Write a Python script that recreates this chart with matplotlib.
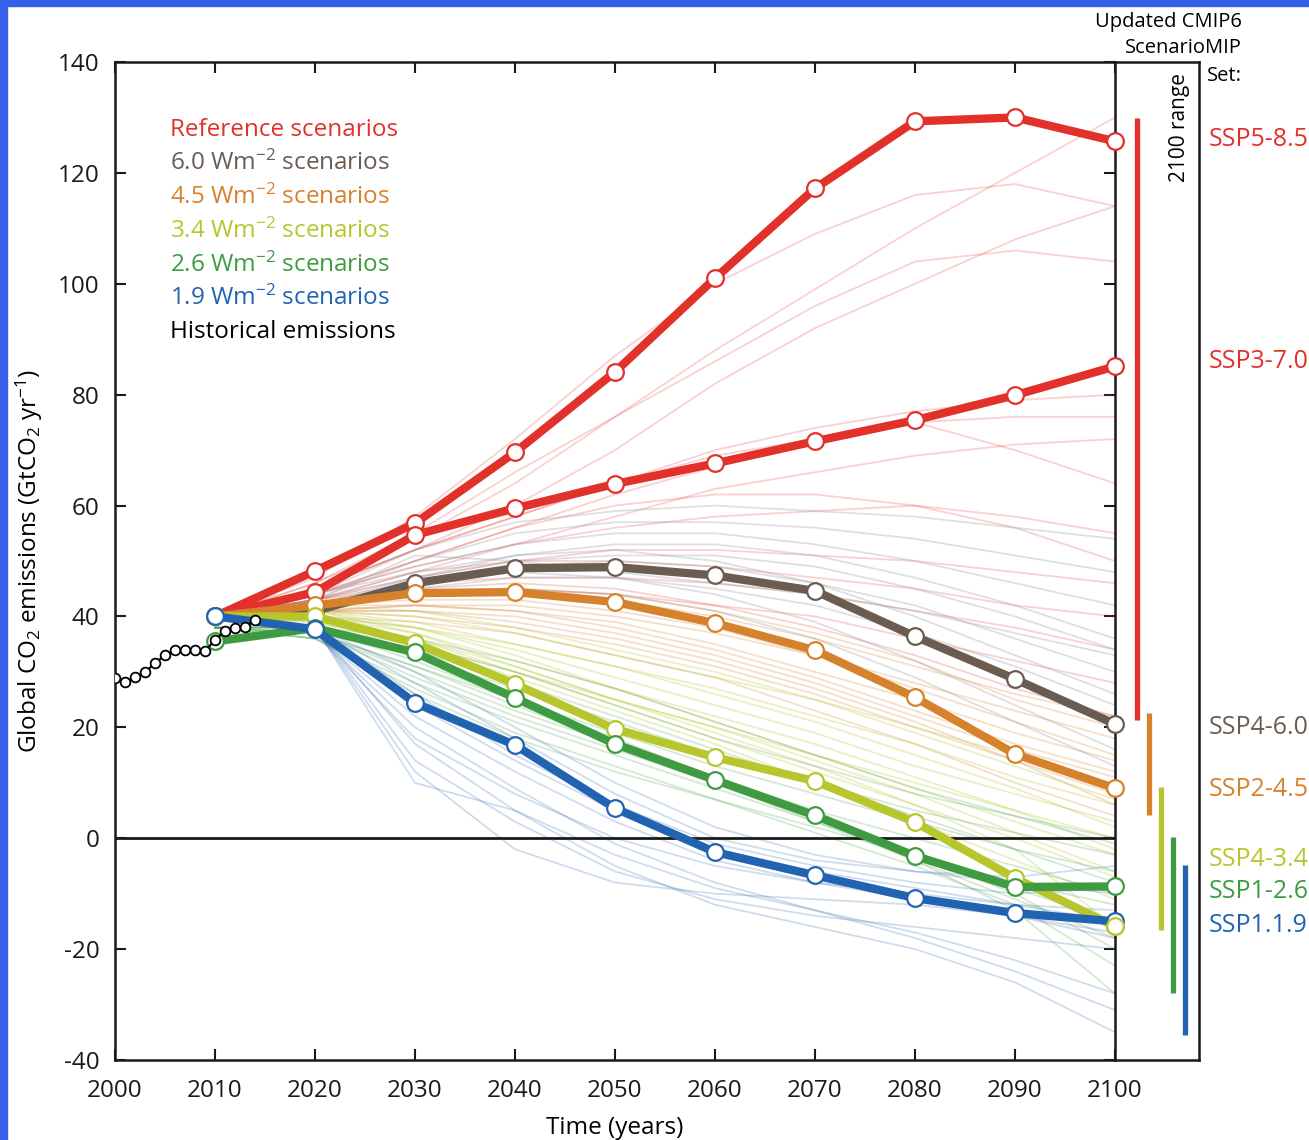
import numpy as np
import matplotlib
matplotlib.use("Agg")
import matplotlib.pyplot as plt
from matplotlib.patches import Rectangle

plt.rcParams['font.family'] = ['Open Sans', 'DejaVu Sans']
plt.rcParams['mathtext.fontset'] = 'custom'
plt.rcParams['mathtext.rm'] = 'Open Sans'
plt.rcParams['mathtext.it'] = 'Open Sans:italic'
plt.rcParams['axes.unicode_minus'] = False

# decadal years used by every scenario
years = [2010, 2020, 2030, 2040, 2050, 2060, 2070, 2080, 2090, 2100]

# historical emissions
hist_years = [2000, 2001, 2002, 2003, 2004, 2005, 2006, 2007, 2008, 2009,
              2010, 2011, 2012, 2013, 2014]
hist_vals = [28.9, 28.1, 29.0, 29.9, 31.6, 33.0, 33.9, 33.9, 33.9, 33.7,
             35.8, 37.3, 37.9, 38.1, 39.3]

# marker scenarios
ssp585 = [40.0, 48.2, 56.8, 69.6, 84.1, 101.0, 117.2, 129.3, 130.0, 125.7]
ssp370 = [40.0, 44.4, 54.7, 59.5, 63.9, 67.6, 71.6, 75.4, 79.9, 85.1]
ssp460 = [40.0, 41.0, 46.0, 48.7, 48.9, 47.4, 44.6, 36.4, 28.7, 20.6]
ssp245 = [40.0, 42.0, 44.2, 44.4, 42.6, 38.8, 33.9, 25.4, 15.2, 9.0]
ssp434 = [40.0, 40.0, 35.2, 27.8, 19.7, 14.6, 10.3, 2.9, -7.2, -15.9]
ssp126 = [35.5, 37.9, 33.5, 25.3, 17.0, 10.5, 4.1, -3.2, -8.8, -8.7]
ssp119 = [40.0, 37.7, 24.4, 16.8, 5.4, -2.5, -6.7, -10.8, -13.5, -15.0]

# other scenarios of each family (faint lines)
ref_runs = [
    [40, 46, 54, 64, 76, 88, 99, 110, 120, 130],
    [40, 47, 58, 72, 87, 100, 109, 116, 118, 114],
    [40, 46, 55, 66, 76, 86, 96, 104, 106, 104],
    [40, 45, 52, 60, 70, 82, 92, 100, 108, 114],
    [40, 45, 52, 58, 64, 70, 74, 77, 79, 80],
    [40, 44, 50, 56, 62, 67, 72, 75, 76, 76],
    [40, 43, 48, 53, 58, 63, 66, 69, 71, 72],
    [40, 45, 52, 58, 64, 69, 72, 75, 70, 64],
    [40, 44, 49, 53, 56, 58, 59, 60, 58, 55],
    [40, 43, 47, 50, 52, 52, 51, 50, 48, 46],
    [40, 44, 48, 50, 50, 49, 47, 45, 42, 40],
    [40, 43, 46, 47, 47, 46, 44, 41, 38, 34],
    [40, 42, 44, 45, 44, 42, 40, 36, 32, 28],
    [40, 43, 45, 46, 45, 42, 38, 33, 27, 22],
    [40, 44, 50, 56, 60, 62, 62, 60, 56, 50],
]
w60_runs = [
    [40, 44, 52, 57, 59, 60, 59, 58, 56, 54],
    [40, 43, 50, 55, 57, 57, 56, 54, 51, 48],
    [40, 44, 49, 53, 55, 55, 53, 50, 46, 42],
    [40, 42, 47, 51, 53, 53, 51, 47, 42, 36],
    [40, 43, 51, 50, 48, 46, 44, 41, 37, 33],
    [40, 42, 46, 49, 50, 49, 46, 42, 36, 30],
    [40, 43, 48, 51, 52, 50, 46, 40, 33, 26],
    [40, 41, 45, 47, 47, 45, 42, 37, 31, 24],
    [40, 42, 46, 48, 47, 44, 39, 32, 24, 16],
    [40, 41, 44, 45, 44, 41, 36, 29, 21, 13],
    [40, 43, 47, 50, 51, 51, 49, 45, 40, 34],
]
w45_runs = [
    [40, 42, 44, 44, 43, 40, 36, 31, 26, 22],
    [40, 41, 42, 42, 40, 37, 33, 28, 23, 18],
    [40, 42, 43, 43, 41, 38, 33, 27, 21, 15],
    [40, 41, 41, 40, 37, 33, 28, 22, 16, 11],
    [40, 42, 42, 41, 38, 34, 29, 23, 17, 12],
    [40, 41, 40, 38, 35, 31, 26, 20, 14, 8],
    [40, 41, 41, 39, 36, 32, 27, 21, 14, 6],
    [40, 40, 39, 37, 33, 29, 23, 17, 10, 4],
    [40, 42, 44, 45, 44, 41, 37, 32, 25, 20],
    [40, 41, 42, 41, 39, 35, 30, 25, 19, 14],
]
w34_runs = [
    [40, 41, 40, 37, 33, 29, 25, 20, 15, 9],
    [40, 41, 39, 35, 31, 27, 22, 17, 11, 6],
    [40, 40, 38, 34, 29, 24, 19, 13, 8, 3],
    [40, 40, 37, 32, 27, 22, 17, 11, 5, 0],
    [40, 41, 38, 33, 27, 21, 15, 9, 3, -3],
    [40, 40, 36, 30, 24, 18, 12, 6, 0, -7],
    [40, 39, 35, 29, 23, 17, 10, 3, -4, -11],
    [40, 40, 36, 31, 25, 19, 13, 6, -2, -16],
    [40, 42, 41, 38, 34, 30, 25, 19, 13, 7],
    [40, 41, 37, 31, 25, 20, 15, 10, 5, -2],
    [40, 40, 38, 35, 31, 26, 21, 15, 9, 2],
    [40, 39, 35, 30, 25, 20, 14, 8, 1, -6],
]
w26_runs = [
    [38, 38, 35, 30, 24, 18, 13, 8, 4, 0],
    [38, 38, 33, 27, 21, 15, 10, 5, 1, -3],
    [38, 37, 31, 25, 19, 13, 8, 3, -2, -6],
    [38, 37, 30, 23, 17, 11, 5, 0, -5, -10],
    [38, 36, 28, 21, 15, 9, 3, -3, -9, -15],
    [38, 37, 29, 22, 16, 10, 4, -3, -10, -20],
    [38, 38, 32, 25, 18, 11, 4, -4, -13, -28],
    [38, 38, 36, 32, 27, 21, 15, 9, 4, -1],
    [38, 36, 26, 18, 12, 7, 2, -3, -8, -12],
    [38, 37, 31, 24, 17, 10, 3, -4, -11, -18],
    [38, 38, 34, 28, 22, 16, 10, 4, -2, -8],
    [38, 36, 27, 19, 13, 7, 1, -5, -12, -23],
]
w19_runs = [
    [40, 38, 24, 14, 5, -2, -6, -9, -12, -15],
    [40, 37, 18, 8, 0, -5, -8, -11, -14, -18],
    [40, 38, 10, 5, -3, -9, -13, -17, -22, -28],
    [40, 38, 14, 3, -6, -11, -14, -16, -18, -20],
    [40, 37, 22, 12, 3, -4, -8, -10, -12, -13],
    [40, 38, 28, 18, 8, 0, -4, -6, -7, -5],
    [40, 38, 17, 5, -5, -12, -16, -20, -26, -35],
    [40, 38, 26, 15, 6, -1, -5, -8, -10, -9],
    [40, 37, 20, 9, -1, -8, -13, -18, -24, -31],
    [40, 38, 30, 20, 10, 2, -3, -6, -8, -10],
    [40, 38, 12, -2, -8, -10, -11, -12, -14, -17],
]

# 2100 range bars
range_lo = [21.3, 4.1, -16.6, -28.0, -35.5]
range_hi = [129.9, 22.5, 9.2, 0.2, -4.9]

c_red = '#e2312a'
c_gray = '#6b5c52'
c_orange = '#d6812c'
c_yellow = '#b7c62c'
c_green = '#3f9b41'
c_blue = '#2263b1'
c_faint_gray = '#8f98a0'

W, H = 1309, 1140
fig = plt.figure(figsize=(W / 100, H / 100), dpi=100)

# blue frame on left / top
fig.patches.append(Rectangle((0, 0), 7 / W, 1, transform=fig.transFigure,
                             color='#3461e8', zorder=0))
fig.patches.append(Rectangle((0, 1 - 6 / H), 1, 6 / H, transform=fig.transFigure,
                             color='#3461e8', zorder=0))

ax = fig.add_axes([115 / W, 80 / H, 1000 / W, 998 / H])
ax.set_xlim(2000, 2100)
ax.set_ylim(-40, 140)

for runs, col, a in [(ref_runs, c_red, 0.22), (w60_runs, c_faint_gray, 0.3),
                     (w45_runs, c_orange, 0.25), (w34_runs, c_yellow, 0.28),
                     (w26_runs, c_green, 0.22), (w19_runs, c_blue, 0.22)]:
    for r in runs:
        ax.plot(years, r, color=col, lw=1.3, alpha=a, zorder=2)

ax.axhline(0, color='#1a1a1a', lw=2, zorder=3)

mk = dict(lw=6, marker='o', ms=12, mfc='white', mew=1.6, zorder=4, clip_on=False)
for vals, col in [(ssp585, c_red), (ssp370, c_red), (ssp460, c_gray),
                  (ssp245, c_orange), (ssp434, c_yellow), (ssp126, c_green),
                  (ssp119, c_blue)]:
    ax.plot(years, vals, color=col, mec=col, **mk)
# SSP4-3.4 end marker sits on top of SSP1-1.9 in 2100
ax.plot(years[-1:], ssp434[-1:], ls='none', marker='o', ms=12, mfc='white',
        mec=c_yellow, mew=1.6, zorder=4.5, clip_on=False)

ax.plot(hist_years, hist_vals, color='black', lw=1.5, marker='o', ms=7,
        mfc='white', mec='black', mew=1.3, zorder=5)

ax.set_xticks(range(2000, 2101, 10))
ax.set_yticks(range(-40, 141, 20))
ax.tick_params(direction='in', length=8, width=1.5, top=True, right=True,
               labelsize=17.5, colors='#1a1a1a', pad=11)
ax.tick_params(axis='x', pad=14)
for s in ax.spines.values():
    s.set_linewidth(1.8)
    s.set_color('#1a1a1a')

ax.set_xlabel('Time (years)', fontsize=17.5, labelpad=9)
ax.set_ylabel(r'Global CO$_{\mathregular{2}}$ emissions (GtCO$_{\mathregular{2}}$ yr$^{\mathregular{-1}}$)',
              fontsize=17.5, labelpad=9)

legend_items = [('Reference scenarios', c_red),
                (r'6.0 Wm$^{\mathregular{-2}}$ scenarios', c_gray),
                (r'4.5 Wm$^{\mathregular{-2}}$ scenarios', c_orange),
                (r'3.4 Wm$^{\mathregular{-2}}$ scenarios', c_yellow),
                (r'2.6 Wm$^{\mathregular{-2}}$ scenarios', c_green),
                (r'1.9 Wm$^{\mathregular{-2}}$ scenarios', c_blue),
                ('Historical emissions', 'black')]
for i, (txt, col) in enumerate(legend_items):
    fig.text(170 / W, 1 - (130 + 33.7 * i) / H, txt, color=col, fontsize=17.5,
             va='center', ha='left')

# right panel: 2100 range
axr = fig.add_axes([1115 / W, 80 / H, 84 / W, 998 / H])
axr.set_xlim(0, 1)
axr.set_ylim(-40, 140)
axr.set_xticks([])
axr.set_yticks([])
axr.patch.set_alpha(0)
axr.spines['left'].set_visible(False)
for s in ['top', 'right', 'bottom']:
    axr.spines[s].set_linewidth(1.8)
    axr.spines[s].set_color('#1a1a1a')
bar_x = [0.26, 0.40, 0.55, 0.69, 0.83]
bar_c = [c_red, c_orange, c_yellow, c_green, c_blue]
for x, lo, hi, col in zip(bar_x, range_lo, range_hi, bar_c):
    axr.plot([x, x], [lo, hi], color=col, lw=3.8, solid_capstyle='butt')
axr.text(0.77, 0.934, '2100 range', rotation=90, fontsize=15, ha='center',
         va='center', transform=axr.transAxes)

fig.text(1242 / W, 1 - 22 / H, 'Updated CMIP6', fontsize=14.5, ha='right', va='center')
fig.text(1242 / W, 1 - 48 / H, 'ScenarioMIP', fontsize=14.5, ha='right', va='center')
fig.text(1207 / W, 1 - 76 / H, 'Set:', fontsize=14.5, ha='left', va='center')

ssp_labels = ['SSP5-8.5', 'SSP3-7.0', 'SSP4-6.0', 'SSP2-4.5', 'SSP4-3.4', 'SSP1-2.6', 'SSP1.1.9']
ssp_label_y = [140, 362, 728, 789, 860, 891, 925]
ssp_label_c = [c_red, c_red, c_gray, c_orange, c_yellow, c_green, c_blue]
for txt, y, col in zip(ssp_labels, ssp_label_y, ssp_label_c):
    fig.text(1209 / W, 1 - y / H, txt, color=col, fontsize=18, ha='left', va='center')

fig.savefig('out.png', dpi=100)
